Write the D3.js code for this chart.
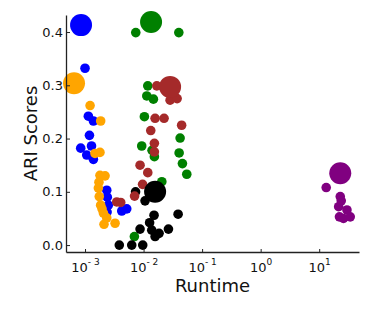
<!DOCTYPE html>
<html>
<head>
<meta charset="utf-8">
<script src="https://cdn.jsdelivr.net/npm/d3@7"></script>
<style>
  body { margin: 0; background: #fff; }
  text { font-family: "DejaVu Sans", sans-serif; }
</style>
</head>
<body>
<script>
// runtime in seconds, ARI score; first entry of each series is the big marker
const blueRuntime = [0.000855, 0.001, 0.00114, 0.00139, 0.00119, 0.000844, 0.00129, 0.00107, 0.00139, 0.00235, 0.0024, 0.0025, 0.00238, 0.00424, 0.00516]
const blueAri = [0.413, 0.332, 0.242, 0.233, 0.206, 0.182, 0.186, 0.169, 0.161, 0.103, 0.090, 0.075, 0.062, 0.064, 0.068]

const orangeRuntime = [0.000649, 0.00122, 0.00185, 0.0018, 0.00148, 0.0018, 0.0022, 0.00173, 0.00169, 0.00175, 0.00185, 0.00195, 0.00206, 0.00235, 0.00211, 0.00326]
const orangeAri = [0.304, 0.262, 0.233, 0.174, 0.172, 0.131, 0.130, 0.118, 0.107, 0.091, 0.075, 0.068, 0.060, 0.051, 0.039, 0.041]

const greenRuntime = [0.01343, 0.00736, 0.04, 0.0118, 0.01135, 0.01472, 0.01033, 0.0421, 0.0093, 0.0153, 0.01396, 0.0405, 0.0461, 0.0547, 0.0205, 0.00697]
const greenAri = [0.419, 0.399, 0.399, 0.299, 0.280, 0.274, 0.241, 0.201, 0.186, 0.166, 0.178, 0.173, 0.153, 0.133, 0.119, 0.016]

const blackRuntime = [0.01574, 0.0073, 0.0106, 0.0151, 0.0389, 0.00871, 0.01268, 0.0138, 0.0184, 0.0266, 0.01574, 0.00385, 0.00628, 0.00968]
const blackAri = [0.100, 0.100, 0.083, 0.056, 0.058, 0.030, 0.042, 0.028, 0.022, 0.030, 0.016, 0.0, 0.0, 0.0]

const brownRuntime = [0.02838, 0.01683, 0.0284, 0.0374, 0.01574, 0.0224, 0.0447, 0.01327, 0.0153, 0.0153, 0.00871, 0.0118, 0.00962, 0.00702, 0.00348, 0.00407]
const brownAri = [0.297, 0.299, 0.272, 0.275, 0.238, 0.238, 0.225, 0.215, 0.191, 0.175, 0.150, 0.136, 0.114, 0.092, 0.081, 0.080]

const purpleRuntime = [22.9, 13.18, 22.9, 23.8, 21.5, 29.8, 22.2, 33.9, 26.0]
const purpleAri = [0.135, 0.108, 0.091, 0.083, 0.072, 0.066, 0.053, 0.053, 0.050]

const xTickExp = [-3, -2, -1, 0, 1]
const yTicks = [0.0, 0.1, 0.2, 0.3, 0.4]

const series = [
    {color: 'blue', runtime: blueRuntime, ari: blueAri},
    {color: 'orange', runtime: orangeRuntime, ari: orangeAri},
    {color: 'green', runtime: greenRuntime, ari: greenAri},
    {color: 'black', runtime: blackRuntime, ari: blackAri},
    {color: 'brown', runtime: brownRuntime, ari: brownAri},
    {color: 'purple', runtime: purpleRuntime, ari: purpleAri}
]

const width = 374, height = 312
const padLeft = 66, padRight = 359, padTop = 15, padBottom = 252

const svg = d3.select('body')
                .append('svg')
                .attr('width', width)
                .attr('height', height)

const xScale = d3.scaleLog()
                    .domain([Math.pow(10, -3.325), Math.pow(10, 1.68)])
                    .range([padLeft, padRight])
const yScale = d3.scaleLinear()
                    .domain([-0.013, 0.432])
                    .range([padBottom, padTop])

// small markers first, big ones on top
series.forEach(s => {
    svg.append('g').selectAll('circle')
        .data(s.runtime.slice(1).map((r, i) => [r, s.ari[i + 1]]))
        .enter()
        .append('circle')
        .attr('cx', d => xScale(d[0]))
        .attr('cy', d => yScale(d[1]))
        .attr('r', 4.8)
        .attr('fill', s.color)
})
svg.append('g').selectAll('circle')
    .data(series)
    .enter()
    .append('circle')
    .attr('cx', d => xScale(d.runtime[0]))
    .attr('cy', d => yScale(d.ari[0]))
    .attr('r', 11)
    .attr('fill', d => d.color)

// axes, matplotlib style: ticks inward, only left and bottom spines
const xAxis = d3.axisBottom(xScale)
                .tickValues(xTickExp.map(e => Math.pow(10, e)))
                .tickSize(-3)
                .tickSizeOuter(0)
                .tickFormat('')
const yAxis = d3.axisLeft(yScale)
                .tickValues(yTicks)
                .tickSize(-4)
                .tickSizeOuter(0)
                .tickFormat(d3.format('.1f'))

const gx = svg.append('g')
    .attr('transform', 'translate(0,' + padBottom + ')')
    .call(xAxis)
gx.select('.domain').attr('stroke', '#222').attr('stroke-width', 1.3)
gx.selectAll('.tick line').attr('stroke', '#222')

gx.selectAll('.tick').each(function(d, i) {
    const t = d3.select(this).append('text')
        .attr('y', 20)
        .attr('fill', '#111')
        .attr('text-anchor', 'middle')
        .style('font-size', '13px')
    t.append('tspan').text('10')
    t.append('tspan')
        .attr('dy', -7)
        .style('font-size', '9px')
        .text(xTickExp[i] < 0 ? '- ' + (-xTickExp[i]) : xTickExp[i])
})

const gy = svg.append('g')
    .attr('transform', 'translate(' + padLeft + ',0)')
    .call(yAxis)
gy.select('.domain').attr('stroke', '#222').attr('stroke-width', 1.3)
gy.selectAll('.tick line').attr('stroke', '#222')
gy.selectAll('.tick text')
    .attr('x', -3)
    .attr('fill', '#111')
    .style('font-size', '13px')

svg.append('text')
    .attr('x', (padLeft + padRight) / 2)
    .attr('y', 292)
    .attr('text-anchor', 'middle')
    .style('font-size', '18px')
    .attr('fill', '#111')
    .text('Runtime')

svg.append('text')
    .attr('transform', 'translate(37,' + (padTop + padBottom) / 2 + ') rotate(-90)')
    .attr('text-anchor', 'middle')
    .style('font-size', '18px')
    .attr('fill', '#111')
    .text('ARI Scores')
</script>
</body>
</html>
